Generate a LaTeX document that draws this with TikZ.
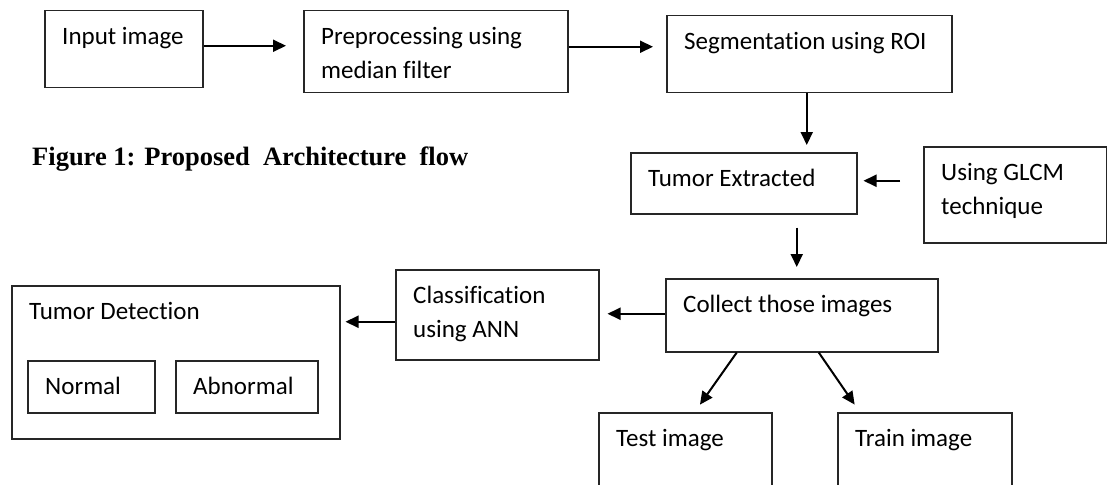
\documentclass[tikz,border=0pt]{standalone}
\usepackage{fontspec}
\setmainfont{Carlito}[Ligatures=CommonOff]
\newfontfamily\capfont{Liberation Serif}
\usetikzlibrary{positioning,arrows.meta}

\tikzset{
	box/.style={draw=black!85, line width=1.5pt, anchor=north west, inner sep=0pt},
	txt/.style={anchor=north west, inner sep=0pt, align=left, xshift=18pt, yshift=-10.2pt,
		font=\fontsize{25}{34}\selectfont},
	arr/.style={-{Triangle[length=13pt,width=12pt]}, line width=2pt},
}

\begin{document}
\begin{tikzpicture}[x=1pt,y=-1pt]
		\path[use as bounding box] (0,0) rectangle (1107,484);
		\clip (0,0) rectangle (1107,484);

		% top row
		\draw (44,10) node[box, minimum width=158pt, minimum height=77pt] (in) {};
		\node[txt] (inT) at (in.north west) {\strut Input image};
		\draw (303,10) node[box, minimum width=264pt, minimum height=82pt] (pre) {};
		\node[txt] (preT) at (pre.north west) {\strut Preprocessing using\\median filter};
		\draw (666,15) node[box, minimum width=285pt, minimum height=77pt] (seg) {};
		\node[txt] (segT) at (seg.north west) {\strut Segmentation using ROI};

		% caption
		\node[anchor=base west, inner sep=0pt, font=\capfont\bfseries\fontsize{26.5}{30}\selectfont]
			(cap) at (32,165) {Figure 1: Proposed~ Architecture~ flow};

		% middle
		\draw (630,152) node[box, minimum width=226pt, minimum height=61pt] (tum) {};
		\node[txt] (tumT) at (tum.north west) {\strut Tumor Extracted};
		\draw (923,146) node[box, minimum width=183pt, minimum height=96pt] (glcm) {};
		\node[txt] (glcmT) at (glcm.north west) {\strut Using GLCM\\technique};

		% lower row
		\draw (665,278) node[box, minimum width=272pt, minimum height=73pt] (col) {};
		\node[txt] (colT) at (col.north west) {\strut Collect those images};
		\draw (395,269) node[box, minimum width=203pt, minimum height=90pt] (cls) {};
		\node[txt] (clsT) at (cls.north west) {\strut Classification\\using ANN};
		\draw (11,285) node[box, minimum width=328pt, minimum height=153pt] (det) {};
		\node[txt] (detT) at (det.north west) {\strut Tumor Detection};
		\draw (27,360) node[box, minimum width=127pt, minimum height=52pt] (nor) {};
		\node[txt] (norT) at (nor.north west) {\strut Normal};
		\draw (175,360) node[box, minimum width=142pt, minimum height=52pt] (abn) {};
		\node[txt] (abnT) at (abn.north west) {\strut Abnormal};
		\draw (598,412) node[box, minimum width=173pt, minimum height=100pt] (test) {};
		\node[txt] (testT) at (test.north west) {\strut Test image};
		\draw (837,412) node[box, minimum width=174pt, minimum height=100pt] (train) {};
		\node[txt] (trainT) at (train.north west) {\strut Train image};

		\path[arr]
			([yshift=3.5pt]in.east)		edge	[shorten >=17pt]	([yshift=3.5pt]in.east -| pre.west)
			([yshift=5pt]pre.east)		edge	[shorten >=13pt]	([yshift=5pt]pre.east -| seg.west)
			([xshift=-2.5pt]seg.south)	edge	[shorten >=7pt]		([xshift=-2.5pt]seg.south |- tum.north)
			([yshift=14pt]glcm.west)	edge	[shorten <=23pt, shorten >=6pt]	([yshift=14pt]glcm.west -| tum.east)
			([xshift=-5pt]col.north |- tum.south)	edge	[shorten <=13pt, shorten >=11pt]	([xshift=-5pt]col.north)
			([yshift=1.5pt]col.west)	edge	[shorten >=8pt]		([yshift=1.5pt]col.west -| cls.east)
			([yshift=-7pt]cls.west)		edge	[shorten >=5pt]		([yshift=-7pt]cls.west -| det.east)
			([xshift=-65pt]col.south)	edge	[shorten >=9pt]		([xshift=9.5pt]test.north)
			([xshift=17pt]col.south)	edge	[shorten >=9pt]		([xshift=-65pt]train.north)
			;
	\end{tikzpicture}
\end{document}
